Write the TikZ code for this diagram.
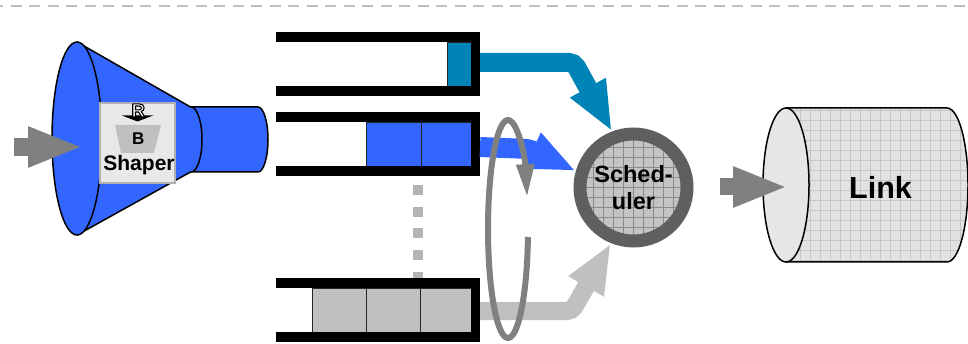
\documentclass[tikz,border=0pt]{standalone}
\usepackage{fontspec}
\setmainfont{Liberation Sans}
\usetikzlibrary{arrows.meta}

\definecolor{funnelblue}{HTML}{3366FF}
\definecolor{queueteal}{HTML}{0083B6}
\definecolor{lightgrey}{HTML}{C0C0C0}
\definecolor{midgrey}{HTML}{808080}
\definecolor{ringgrey}{HTML}{5F5F5F}
\definecolor{dotgrey}{HTML}{B4B4B4}
\definecolor{boxgrey}{HTML}{E8E8E8}
\definecolor{boxedge}{HTML}{B0B0B0}
\definecolor{schedfill}{HTML}{C4C4C4}
\definecolor{schedgrid}{HTML}{8A8A8A}
\definecolor{linkbody}{HTML}{E2E2E2}
\definecolor{linkgrid}{HTML}{C6C6C6}
\definecolor{linkface}{HTML}{E6E6E6}

% white letter with a black stroked outline (text render mode 2)
\newcommand{\outlinedletter}[1]{{\color{white}\special{pdf:literal direct 0 G 1.1 w 1 j 2 Tr}#1\special{pdf:literal direct 0 Tr}}}

\tikzset{
  outline/.style={draw=black, line width=1.5pt},
  funnel/.style={fill=funnelblue, outline},
  queue/.style={minimum width=204pt, minimum height=64pt, inner sep=0pt, outer sep=0pt},
  packet/.style={draw=black!85, line width=0.9pt, minimum height=44pt, inner sep=0pt, outer sep=0pt},
  fatarrow/.style={line width=19pt, rounded corners=5pt, -{Triangle[length=50pt,width=37pt]}},
  stubarrow/.style={draw=midgrey, line width=18pt, -{Triangle[length=55pt,width=37pt]}},
  label/.style={inner sep=0pt, font=\bfseries},
}

\begin{document}
\begin{tikzpicture}[x=1pt,y=-1pt]
\useasboundingbox (0,0) rectangle (968,344);

% dashed rule along the top
\draw[draw=lightgrey, line width=2pt, dash pattern=on 11pt off 7.5pt, dash phase=8pt] (0,6) -- (968,6);

% ---- shaper funnel ----
\filldraw[funnel] (190.5,107) -- (258,107) arc[start angle=-90,end angle=90,x radius=10,y radius=32.5] -- (190.5,172) -- cycle;
\filldraw[funnel] (191,139.5) ellipse[x radius=11,y radius=32.5];
\fill[funnelblue] (77,42) -- (190.5,107) -- (190.5,172) -- (77,235) -- cycle;
\draw[outline] (77,42) -- (190.5,107) (190.5,172) -- (77,235);
\filldraw[funnel] (77,138.5) ellipse[x radius=25,y radius=96.5];

\coordinate (src) at (14,147);
\coordinate (funnelin) at (83,147);
\draw[stubarrow] (src) -- (funnelin);

% shaper box with token-bucket symbol
\node[draw=boxedge, fill=boxgrey, line width=1.5pt, minimum width=75pt, minimum height=80pt, inner sep=0pt] (shaper) at (137.5,143) {};
\fill[lightgrey] (115,125) -- (161,125) -- (154,153) -- (121,153) -- cycle;
\fill[black] (122,115.5) -- (153,115.5) -- (137.5,121.5) -- cycle;
\node[label, font=\fontsize{19}{22}\selectfont\bfseries, anchor=base] (rate) at (138.3,117) {\outlinedletter{R}};
\node[label, font=\fontsize{17}{20}\selectfont\bfseries, anchor=base] (bucket) at (138.3,145) {B};
\node[label, font=\fontsize{21}{25}\selectfont\bfseries, anchor=base] (shapertext) at (139,170.5) {Shaper};

% ---- queues ----
\node[queue] (q1) at (378,64) {};
\node[queue] (q2) at (378,144) {};
\node[queue] (q3) at (378,310) {};

\node[packet, fill=queueteal, minimum width=24pt] (t1) at (459,64) {};
\node[packet, fill=funnelblue, minimum width=55pt] (b1) at (393.5,144) {};
\node[packet, fill=funnelblue, minimum width=50pt] (b2) at (446,144) {};
\node[packet, fill=lightgrey, minimum width=54pt] (g1) at (339,310) {};
\node[packet, fill=lightgrey, minimum width=54pt] (g2) at (393,310) {};
\node[packet, fill=lightgrey, minimum width=51pt] (g3) at (445.5,310) {};

\foreach \q in {q1,q2,q3} {
  \fill[black] (\q.north west) rectangle ([yshift=-10pt]\q.north east);
  \fill[black] ([yshift=10pt]\q.south west) rectangle (\q.south east);
  \fill[black] ([xshift=-9pt]\q.north east) rectangle (\q.south east);
}

% further queues, elided
\coordinate (gapstart) at (418,185);
\draw[draw=dotgrey, line width=10pt, dash pattern=on 10pt off 11.7pt] (gapstart) -- (gapstart |- q3.north);

% ---- scheduler ----
\node[circle, draw=ringgrey, line width=13pt, fill=schedfill, minimum size=107pt,
      inner sep=0pt, outer sep=6.5pt, align=center,
      font=\fontsize{23.5}{26.6}\selectfont\bfseries,
      path picture={
        \foreach \i in {-6,...,6} {
          \draw[schedgrid, line width=0.8pt] ([xshift=\i*10pt]path picture bounding box.north) -- ([xshift=\i*10pt]path picture bounding box.south);
          \draw[schedgrid, line width=0.8pt] ([yshift=\i*10pt]path picture bounding box.west) -- ([yshift=\i*10pt]path picture bounding box.east);
        }
      }] (sched) at (633.5,187.5) {Sched-\\uler};

% queue outputs into the scheduler
\draw[fatarrow, draw=queueteal] ([yshift=1.5pt]q1.east) -- (574,62.5) -- (sched.111.5);
\draw[fatarrow, draw=funnelblue, line width=20pt, -{Triangle[length=48pt,width=36pt]}] ([yshift=-3pt]q2.east) -- (529,149) -- (sched.164.7);
\draw[fatarrow, draw=lightgrey, line width=18pt] ([yshift=-1pt]q3.east) -- (572,311) -- (sched.248.5);

% round-robin loop
\draw[draw=midgrey, line width=6pt, -{Triangle[length=33pt,width=17pt]}]
  (527.95,237) arc[start angle=4.2,end angle=343,x radius=20,y radius=109];

% ---- link ----
\fill[linkbody] (786,108) -- (947,108) arc[start angle=-90,end angle=90,x radius=21,y radius=77] -- (786,262) -- cycle;
\begin{scope}
  \clip (786,108) -- (947,108) arc[start angle=-90,end angle=90,x radius=21,y radius=77] -- (786,262) -- cycle;
  \foreach \gx in {790,800,...,970}
    \draw[linkgrid, line width=0.8pt] (\gx,100) -- (\gx,270);
  \foreach \gy in {110,120,...,260}
    \draw[linkgrid, line width=0.8pt] (780,\gy) -- (970,\gy);
\end{scope}
\draw[outline] (786,108) -- (947,108) arc[start angle=-90,end angle=90,x radius=21,y radius=77] -- (786,262);
\filldraw[fill=linkface, outline] (786,185) ellipse[x radius=23,y radius=77];
\node[label, font=\fontsize{30.5}{34}\selectfont\bfseries, anchor=base] (link) at (880.5,198.3) {Link};

\coordinate (linkin) at (788,187);
\draw[draw=midgrey, line width=17pt, -{Triangle[length=55pt,width=37pt]}] ([xshift=26.5pt,yshift=0.5pt]sched.east) -- (linkin);
\end{tikzpicture}
\end{document}
